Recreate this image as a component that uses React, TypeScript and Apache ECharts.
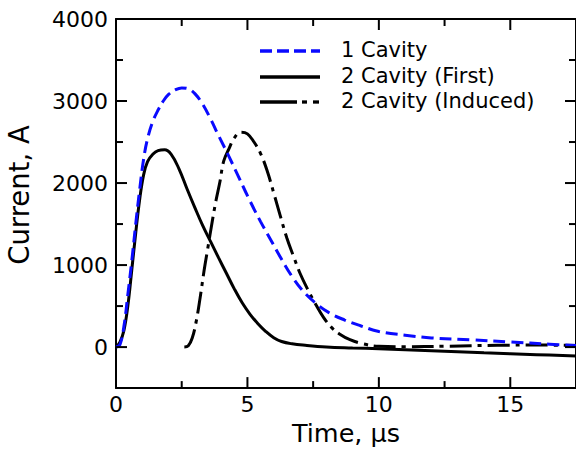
import React, { useEffect, useRef } from "react";
import * as echarts from "echarts";

const X_MIN = 0;
const X_MAX = 17.5;
const Y_MIN = -500;
const Y_MAX = 4000;

const xMajor = [0, 5, 10, 15];
const xMinor = [2.5, 7.5, 12.5, 17.5];
const yMajor = [0, 1000, 2000, 3000, 4000];
const yMinor = [500, 1500, 2500, 3500];

const blueT = [0, 0.15, 0.3, 0.45, 0.6, 0.75, 0.9, 1.05, 1.2, 1.4, 1.6, 1.8, 2.0, 2.25, 2.5, 2.75, 3.0, 3.3, 3.6, 3.9, 4.3, 4.7, 5.1, 5.5, 5.9, 6.3, 6.7, 7.1, 7.6, 8.1, 8.7, 9.3, 10, 11, 12, 13.5, 15, 16.5, 17.5];
const blueI = [0, 30, 250, 640, 1050, 1500, 1920, 2290, 2540, 2750, 2890, 3000, 3080, 3135, 3160, 3150, 3090, 2960, 2780, 2580, 2322, 2050, 1780, 1530, 1300, 1070, 860, 690, 535, 420, 330, 260, 190, 145, 112, 88, 62, 35, 18];

const firstT = [0, 0.15, 0.3, 0.45, 0.6, 0.75, 0.9, 1.05, 1.2, 1.4, 1.6, 1.85, 2.1, 2.4, 2.7, 3.0, 3.3, 3.6, 3.9, 4.2, 4.5, 4.8, 5.1, 5.4, 5.7, 6.0, 6.3, 6.7, 7.2, 8.0, 9, 10, 12, 14, 16, 17.5];
const firstI = [0, 60, 200, 500, 940, 1390, 1800, 2100, 2260, 2350, 2395, 2405, 2350, 2170, 1930, 1700, 1480, 1285, 1090, 900, 710, 540, 400, 285, 190, 115, 68, 40, 22, 2, -10, -20, -45, -70, -92, -110];

const indT = [2.6, 2.75, 2.9, 3.05, 3.2, 3.35, 3.5, 3.65, 3.8, 3.95, 4.1, 4.3, 4.5, 4.75, 5.0, 5.25, 5.5, 5.75, 6.0, 6.25, 6.5, 6.75, 7.0, 7.3, 7.6, 7.9, 8.2, 8.5, 8.9, 9.4, 10, 11, 12.5, 14.5, 16, 17.5];
const indI = [0, 15, 110, 310, 600, 930, 1220, 1510, 1780, 2010, 2270, 2420, 2550, 2620, 2600, 2500, 2360, 2150, 1880, 1600, 1330, 1110, 900, 700, 520, 360, 240, 160, 90, 40, 10, 5, 10, 22, 25, 20];

const seriesNames = ["1 Cavity", "2 Cavity (First)", "2 Cavity (Induced)"];

const FONT = "DejaVu Sans";
const BLUE = "#0a0aff";
const MAJOR_LEN = 11;
const MINOR_LEN = 7;

function pairs(t: number[], v: number[]) {
  return t.map((x, i) => [x, v[i]]);
}

// tick spec: [value, side(0 bottom,1 top,2 left,3 right), isMajor]
const tickData = [
  ...xMajor.flatMap((v) => [[v, 0, 1], [v, 1, 1]]),
  ...xMinor.flatMap((v) => [[v, 0, 0], [v, 1, 0]]),
  ...yMajor.flatMap((v) => [[v, 2, 1], [v, 3, 1]]),
  ...yMinor.flatMap((v) => [[v, 2, 0], [v, 3, 0]]),
];

export default function App() {
  const ref = useRef<HTMLDivElement>(null);
  useEffect(() => {
    if (!ref.current) return;
    const chart = echarts.init(ref.current, null, { renderer: "svg" });
    const axisLine = { show: true, onZero: false, lineStyle: { color: "#000", width: 2 } };
    const xBase = { type: "value", min: X_MIN, max: X_MAX, splitLine: { show: false }, axisTick: { show: false } };
    const yBase = { type: "value", min: Y_MIN, max: Y_MAX, splitLine: { show: false }, axisTick: { show: false } };
    const fmt = (v: number) => String(v);
    chart.setOption({
      animation: false,
      grid: { left: 116, right: -4.5, top: 19, bottom: 59, containLabel: false },
      xAxis: [
        {
          ...xBase,
          position: "bottom",
          axisLine,
          axisLabel: {
            show: true,
            customValues: xMajor,
            formatter: fmt,
            color: "#000",
            fontFamily: FONT,
            fontSize: 22,
            margin: 5,
          },
          name: "Time, μs",
          nameLocation: "middle",
          nameGap: 29,
          nameTextStyle: { color: "#000", fontFamily: FONT, fontSize: 25.5 },
        },
        { ...xBase, position: "top", axisLine, axisLabel: { show: false } },
      ],
      yAxis: [
        {
          ...yBase,
          position: "left",
          axisLine,
          axisLabel: {
            show: true,
            customValues: yMajor,
            formatter: fmt,
            color: "#000",
            fontFamily: FONT,
            fontSize: 22,
            margin: 8,
          },
        },
        { ...yBase, position: "right", axisLine, axisLabel: { show: false } },
      ],
      series: [
        {
          name: "ticks",
          type: "custom",
          xAxisIndex: 0,
          yAxisIndex: 0,
          silent: true,
          clip: false,
          z: 5,
          data: tickData,
          renderItem: (params: any, api: any) => {
            const v = api.value(0);
            const side = api.value(1);
            const len = api.value(2) ? MAJOR_LEN : MINOR_LEN;
            let p: number[];
            let q: number[];
            if (side === 0) {
              p = api.coord([v, Y_MIN]);
              q = [p[0], p[1] - len];
            } else if (side === 1) {
              p = api.coord([v, Y_MAX]);
              q = [p[0], p[1] + len];
            } else if (side === 2) {
              p = api.coord([X_MIN, v]);
              q = [p[0] + len, p[1]];
            } else {
              p = api.coord([X_MAX, v]);
              q = [p[0] - len, p[1]];
            }
            return {
              type: "line",
              shape: { x1: p[0], y1: p[1], x2: q[0], y2: q[1] },
              style: { stroke: "#000", lineWidth: 2 },
            };
          },
        },
        {
          name: seriesNames[1],
          type: "line",
          data: pairs(firstT, firstI),
          smooth: 0.4,
          showSymbol: false,
          lineStyle: { color: "#000", width: 3, type: "solid" },
        },
        {
          name: seriesNames[2],
          type: "line",
          data: pairs(indT, indI),
          smooth: 0.4,
          showSymbol: false,
          lineStyle: { color: "#000", width: 3, type: [22, 6, 4, 6] },
        },
        {
          name: seriesNames[0],
          type: "line",
          data: pairs(blueT, blueI),
          smooth: 0.4,
          showSymbol: false,
          lineStyle: { color: BLUE, width: 3, type: [12, 6] },
        },
      ],
      graphic: [
        {
          type: "text",
          x: 19,
          y: 195,
          rotation: Math.PI / 2,
          style: {
            text: "Current, A",
            fontFamily: FONT,
            fontSize: 27.5,
            fill: "#000",
            align: "center",
            verticalAlign: "middle",
          },
        },
        { type: "line", shape: { x1: 260, y1: 51, x2: 320, y2: 51 }, style: { stroke: BLUE, lineWidth: 3.3, lineDash: [12, 5] } },
        { type: "line", shape: { x1: 260, y1: 77, x2: 320, y2: 77 }, style: { stroke: "#000", lineWidth: 3.3 } },
        { type: "line", shape: { x1: 260, y1: 102, x2: 297, y2: 102 }, style: { stroke: "#000", lineWidth: 3.3 } },
        { type: "line", shape: { x1: 302, y1: 102, x2: 307, y2: 102 }, style: { stroke: "#000", lineWidth: 3.3 } },
        { type: "line", shape: { x1: 313, y1: 102, x2: 319, y2: 102 }, style: { stroke: "#000", lineWidth: 3.3 } },
        ...seriesNames.map((n, i) => ({
          type: "text",
          x: 341,
          y: [50, 76, 101][i],
          style: { text: n, fontFamily: FONT, fontSize: 21, fill: "#000", verticalAlign: "middle" },
        })),
      ],
    });
    return () => chart.dispose();
  }, []);
  return (
    <div
      ref={ref}
      style={{ position: "absolute", left: 0, top: 0, width: 576, height: 451, background: "#fff" }}
    />
  );
}
